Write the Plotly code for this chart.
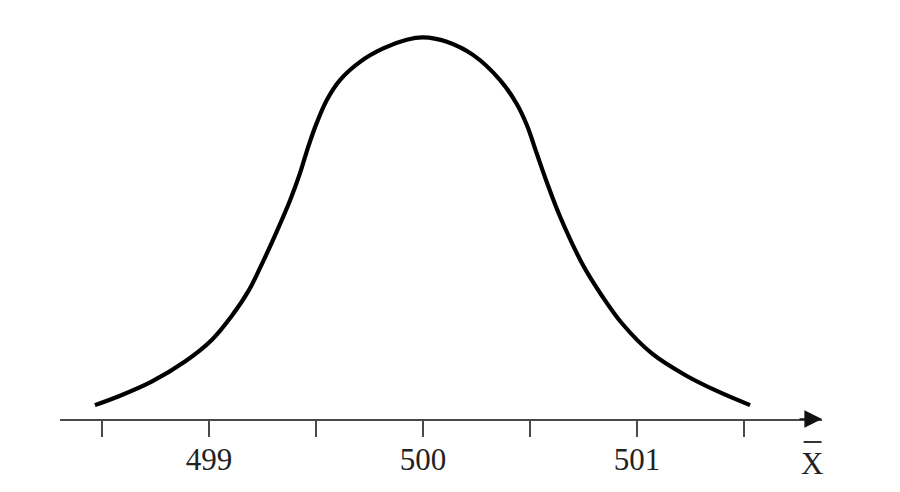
import plotly.graph_objects as go

# Sampling distribution of the mean
x_vals = [498.467, 498.576, 498.732, 498.888, 499.013, 499.106, 499.184, 499.238,
          499.316, 499.379, 499.425, 499.464, 499.503, 499.550, 499.612, 499.706,
          499.814, 499.924, 500.000, 500.111, 500.235, 500.360, 500.438, 500.485,
          500.531, 500.578, 500.640, 500.749, 500.835, 500.929, 501.069, 501.224,
          501.380, 501.528]
density = [0.029, 0.047, 0.078, 0.120, 0.165, 0.215, 0.267, 0.315,
           0.391, 0.457, 0.513, 0.569, 0.618, 0.666, 0.708, 0.746,
           0.774, 0.792, 0.797, 0.788, 0.760, 0.708, 0.658, 0.614,
           0.555, 0.495, 0.423, 0.320, 0.258, 0.200, 0.137, 0.092,
           0.057, 0.029]

tick_vals = [498.5, 499, 499.5, 500, 500.5, 501, 501.5]
tick_text = ["", "499", "", "500", "", "501", ""]
axis_label = "X"

W, H = 900, 492
x_left, x_right = 498.304, 501.864
font = "Liberation Serif, Times New Roman, serif"

fig = go.Figure()
fig.add_trace(go.Scatter(
    x=x_vals, y=density, mode="lines",
    line=dict(color="black", width=4.2, shape="spline", smoothing=1.0),
    hoverinfo="skip", showlegend=False,
))

fig.update_layout(
    width=W, height=H,
    margin=dict(l=0, r=0, t=12, b=81, pad=0),
    paper_bgcolor="white", plot_bgcolor="white",
    xaxis=dict(
        domain=[52 / W, 814 / W],
        range=[x_left, x_right],
        showgrid=False, zeroline=False,
        showline=True, linecolor="#4a4a4a", linewidth=1.6,
        ticks="outside", ticklen=16, tickwidth=1.6, tickcolor="#4a4a4a",
        tickmode="array", tickvals=tick_vals, ticktext=tick_text,
        tickfont=dict(family=font, size=31, color="#222"),
        ticklabelstandoff=-4,
        fixedrange=True,
    ),
    yaxis=dict(
        range=[0, 0.8334],
        visible=False, showgrid=False, zeroline=False, fixedrange=True,
    ),
    annotations=[
        dict(x=x_right, y=0, xref="x", yref="y", ax=-24, ay=0,
             showarrow=True, arrowhead=2, arrowsize=2.2, arrowwidth=1.6,
             arrowcolor="#111", text=""),
        dict(x=501.818, y=0, xref="x", yref="y", yshift=-44,
             text=axis_label, showarrow=False,
             font=dict(family=font, size=31, color="#222")),
    ],
    shapes=[
        dict(type="line", xref="x", yref="paper",
             x0=501.778, x1=501.862, y0=-0.0576, y1=-0.0576,
             line=dict(color="#333", width=2)),
    ],
)

fig.write_html("out.html")
